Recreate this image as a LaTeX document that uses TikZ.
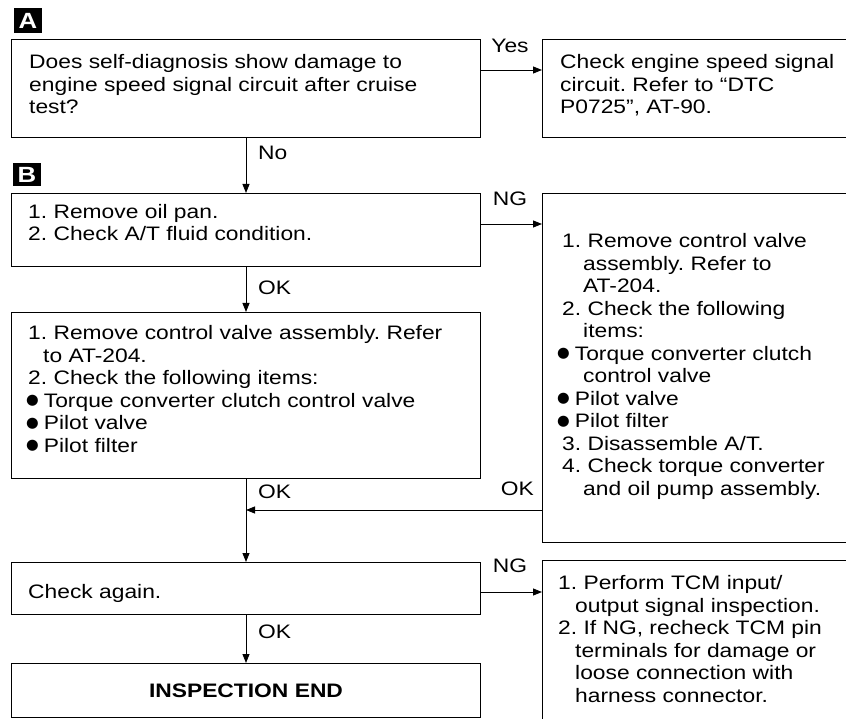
\documentclass[tikz,border=0pt]{standalone}
\usepackage{fontspec}
\setmainfont{Liberation Sans}[FakeStretch=1.17]
\newfontfamily\dejavu{DejaVu Sans}
\usetikzlibrary{arrows.meta}
\newcommand{\fs}{\fontsize{19.5}{22.5}\selectfont\frenchspacing}
\newcommand{\bul}[2]{\hspace*{#1}\raisebox{2.5pt}{\dejavu\fontsize{14.5}{14.5}\selectfont ●}\hspace{#2}}
\begin{document}
\begin{tikzpicture}[x=1pt,y=-1pt,
  box/.style={draw, line width=1pt, anchor=north west, inner sep=0},
  txt/.style={anchor=base west, align=left, inner sep=0, font=\fs},
  arr/.style={-{Triangle[length=9pt,width=7pt]}, line width=0.9pt},
  lab/.style={font=\fs, inner sep=0},
  tag/.style={fill=black, text=white, font=\bfseries\fontsize{22}{22}\selectfont, inner sep=0}]
\useasboundingbox (0,0) rectangle (846,719);
\clip (0,0) rectangle (846,719);
% tags
\node[tag, minimum width=28pt, minimum height=25pt] (ta) at (28,21) {A};
\node[tag, minimum width=28pt, minimum height=23pt] (tb) at (27,175) {B};
% boxes
\node[box, minimum width=469pt, minimum height=98pt] (b1) at (11,39) {};
\node[box, minimum width=310pt, minimum height=98pt] (b2) at (542,39) {};
\node[box, minimum width=469pt, minimum height=73pt] (b3) at (11,193) {};
\node[box, minimum width=310pt, minimum height=349pt] (b4) at (542,193) {};
\node[box, minimum width=469pt, minimum height=166pt] (b5) at (11,312) {};
\node[box, minimum width=469pt, minimum height=52pt] (b6) at (11,562) {};
\node[box, minimum width=310pt, minimum height=170pt] (b7) at (542,560) {};
\node[box, minimum width=469pt, minimum height=54pt] (b8) at (11,663) {};
% texts (anchored at the baseline of the last line)
\node[txt] (t1) at (29,114) {Does self-diagnosis show damage to\\engine speed signal circuit after cruise\\test?};
\node[txt] (t2) at (560,114) {Check engine speed signal\\circuit. Refer to “DTC\\P0725”, AT-90.};
\node[txt] (t3) at (28,241) {1. Remove oil pan.\\2. Check A/T fluid condition.};
\node[txt] (t5) at (28,452) {1. Remove control valve assembly. Refer\\\hspace*{15pt}to AT-204.\\2. Check the following items:\\\bul{-2pt}{5pt}Torque converter clutch control valve\\\bul{-2pt}{5pt}Pilot valve\\\bul{-2pt}{5pt}Pilot filter};
\node[txt] (t4) at (562,495) {1. Remove control valve\\\hspace*{21pt}assembly. Refer to\\\hspace*{21pt}AT-204.\\2. Check the following\\\hspace*{21pt}items:\\\bul{-5pt}{5pt}Torque converter clutch\\\hspace*{21pt}control valve\\\bul{-5pt}{5pt}Pilot valve\\\bul{-5pt}{5pt}Pilot filter\\3. Disassemble A/T.\\4. Check torque converter\\\hspace*{21pt}and oil pump assembly.};
\node[txt] (t6) at (28,598) {Check again.};
\node[txt] (t7) at (558,702) {1. Perform TCM input/\\\hspace*{17pt}output signal inspection.\\2. If NG, recheck TCM pin\\\hspace*{17pt}terminals for damage or\\\hspace*{17pt}loose connection with\\\hspace*{17pt}harness connector.};
\node[font=\fs\bfseries, inner sep=0] (t8) at (b8.center) {INSPECTION END};
% connectors
\coordinate (y1) at (480,70);
\draw[arr] (y1) -- (y1 -| b2.west);
\node[lab] (lyes) at (510,46) {Yes};
\draw[arr] (b1.south) -- (b3.north);
\node[lab, anchor=west] (lno) at (258,153) {No};
\coordinate (n1) at (480,224);
\draw[arr] (n1) -- (n1 -| b4.west);
\node[lab] (lng1) at (510,199) {NG};
\draw[arr] (b3.south) -- (b5.north);
\node[lab, anchor=west] (lok1) at (258,288) {OK};
\coordinate (jn) at (b5.south |- 0,510);
\draw[line width=0.9pt] (b5.south) -- (jn);
\draw[arr] (jn) -- (b6.north);
\node[lab, anchor=west] (lok2) at (258,492) {OK};
\coordinate (o2) at (542,510);
\draw[arr] (o2) -- (jn);
\node[lab, anchor=east] (lok3) at (534,489) {OK};
\coordinate (n2) at (480,592);
\draw[arr] (n2) -- (n2 -| b7.west);
\node[lab] (lng2) at (510,566) {NG};
\draw[arr] (b6.south) -- (b8.north);
\node[lab, anchor=west] (lok4) at (258,632) {OK};
\end{tikzpicture}
\end{document}
